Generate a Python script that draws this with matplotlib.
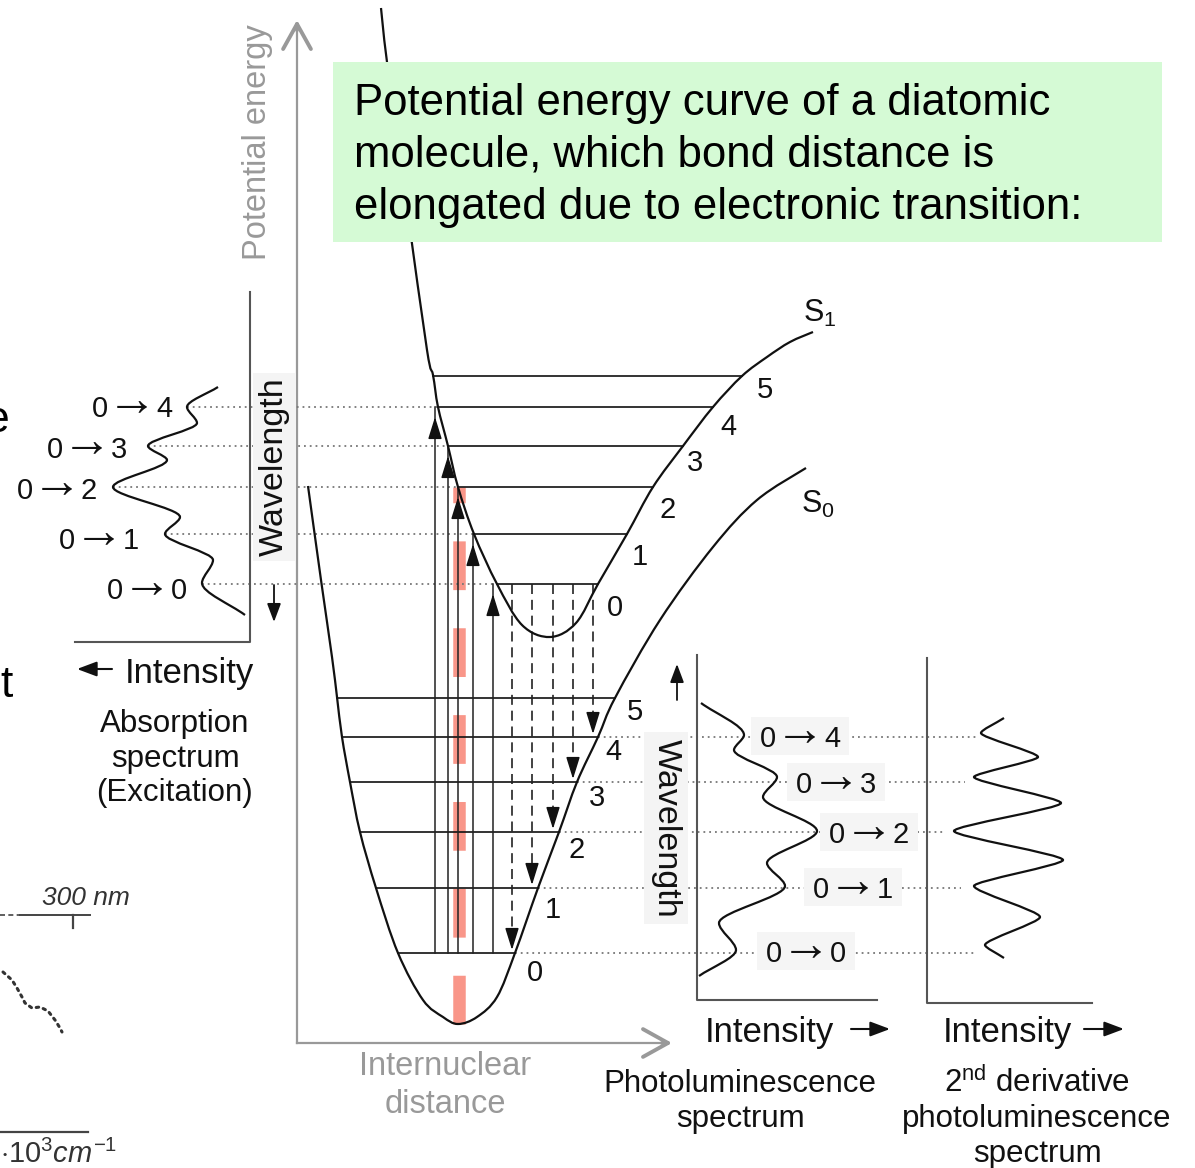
import numpy as np
import matplotlib
matplotlib.use('Agg')
import matplotlib.pyplot as plt
from matplotlib.path import Path
from matplotlib.patches import PathPatch, Rectangle

plt.rcParams['font.family'] = ['Liberation Sans', 'DejaVu Sans']
plt.rcParams['mathtext.fontset'] = 'custom'
plt.rcParams['mathtext.rm'] = 'Liberation Sans'
plt.rcParams['mathtext.it'] = 'Liberation Sans:italic'
plt.rcParams['mathtext.bf'] = 'Liberation Sans:bold'

# ---- diagram data (in picture units, y grows downwards) ----
# excited state S1 potential curve
s1_x = [381, 387, 406, 427, 433, 438, 448, 458, 474, 497, 522, 550, 576, 598, 627, 653, 683, 713, 742, 767, 790, 813]
s1_y = [8, 62, 200, 350, 375, 407, 446, 487, 534, 584, 625, 637, 623, 584, 534, 487, 446, 407, 376, 357, 342, 332]
# ground state S0 potential curve
s0_x = [308, 321, 332, 337, 342, 350, 360, 376, 398, 423, 443, 458, 477, 497, 515, 538, 559, 577, 598, 615, 660, 713, 757, 806]
s0_y = [486, 580, 657, 697, 737, 782, 832, 888, 953, 1000, 1017, 1024, 1017, 997, 953, 888, 832, 782, 737, 698, 620, 547, 500, 468]

# vibrational levels v = 0..5
s1_lv_y = [584, 534, 487, 446, 407, 376]
s1_lv_x0 = [497, 474, 458, 448, 438, 433]
s1_lv_x1 = [598, 627, 653, 683, 713, 742]
s0_lv_y = [953, 888, 832, 782, 737, 698]
s0_lv_x0 = [398, 376, 360, 350, 342, 337]
s0_lv_x1 = [515, 538, 559, 577, 598, 615]
level_names = ['0', '1', '2', '3', '4', '5']
s1_lab_x = [615, 640, 668, 695, 728, 765]
s1_lab_y = [608, 557, 510, 463, 427, 390]
s0_lab_x = [535, 553, 577, 597, 613, 635]
s0_lab_y = [973, 910, 850, 798, 752, 712]

# transitions (absorption up from S0 v0, emission down from S1 v0)
abs_x = [493, 473, 458, 448, 435]
em_x = [512, 532, 553, 573, 593]

# absorption spectrum (intensity grows to the left)
abs_sp_x = [218, 187, 197, 148, 167, 113, 180, 165, 213, 202, 245]
abs_sp_y = [387, 407, 423, 446, 460, 487, 517, 534, 560, 583, 615]
abs_target = ['4', '3', '2', '1', '0']
abs_peak_x = [187, 148, 113, 165, 202]
abs_lab_x = [173, 128, 98, 140, 188]
abs_lab_y = [406, 447, 488, 538, 588]

# photoluminescence spectrum (intensity grows to the right)
pl_x = [701, 744, 734, 777, 763, 817, 767, 785, 719, 736, 699]
pl_y = [703, 735, 750, 777, 797, 831, 863, 886, 923, 950, 976]
pl_target = ['4', '3', '2', '1', '0']
pl_lab_x = [800, 836, 869, 853, 806]
pl_lab_y = [736, 782, 832, 887, 951]
pl_guide_end = [979, 965, 944, 961, 976]

# 2nd derivative of the PL spectrum
d2_x = [1004, 981, 1038, 974, 1061, 954, 1063, 974, 1040, 985, 1004]
d2_y = [718, 733, 757, 777, 803, 831, 860, 886, 917, 945, 958]

# fragment of a neighbouring figure at the bottom left
frag_x = [3, 12, 17, 22, 25, 32, 40, 48, 55, 60, 62]
frag_y = [972, 980, 988, 997, 1003, 1008, 1007, 1011, 1020, 1028, 1032]

INK = '#111111'
GREY = '#999999'


def catmull(xs, ys):
    p = np.column_stack([xs, ys]).astype(float)
    verts = [p[0]]
    codes = [Path.MOVETO]
    for i in range(len(p) - 1):
        p0 = p[i - 1] if i > 0 else p[i]
        p3 = p[i + 2] if i + 2 < len(p) else p[i + 1]
        verts += [p[i] + (p[i + 1] - p0) / 6, p[i + 1] - (p3 - p[i]) / 6, p[i + 1]]
        codes += [Path.CURVE4] * 3
    return Path(verts, codes)


def wiggle(xs, ys, k):
    # bezier between extrema with vertical tangents at the extrema
    p = np.column_stack([xs, ys]).astype(float)
    verts = [p[0]]
    codes = [Path.MOVETO]
    n = len(p)
    for i in range(n - 1):
        a, b = p[i], p[i + 1]
        dy = b[1] - a[1]
        c1 = a + (b - a) / 3 if i == 0 else np.array([a[0], a[1] + k * dy])
        c2 = b - (b - a) / 3 if i == n - 2 else np.array([b[0], b[1] - k * dy])
        verts += [c1, c2, b]
        codes += [Path.CURVE4] * 3
    return Path(verts, codes)


def head(ax, x0, y0, x1, y1, color=INK, lw=1.2, ms=15, hl=0.8, hw=0.3, z=5, style='-|>'):
    ax.annotate('', xy=(x1, y1), xytext=(x0, y0), zorder=z,
                arrowprops=dict(arrowstyle=f'{style},head_length={hl},head_width={hw}',
                                color=color, lw=lw, shrinkA=0, shrinkB=0,
                                mutation_scale=ms))


def transition_label(ax, xc, yc, target, box=False):
    # "0 → n" centred on xc; the arrow glyph is set larger so it is as long as in the original
    base = yc + 11
    if box:
        ax.add_patch(Rectangle((xc - 49, yc - 19), 98, 38, fc='#f5f5f5', ec='none', zorder=5))
    ax.text(xc - 32, base, '0', ha='center', va='baseline', fontsize=21, color=INK, zorder=6)
    ax.text(xc, base - 2, '→', ha='center', va='baseline', fontsize=36, color=INK, zorder=6)
    ax.text(xc + 32, base, target, ha='center', va='baseline', fontsize=21, color=INK, zorder=6)


fig = plt.figure(figsize=(11.95, 11.68), dpi=100)
ax = fig.add_axes([0, 0, 1, 1])
ax.set_xlim(0, 1195)
ax.set_ylim(1168, 0)
ax.axis('off')

# main grey axes
ax.plot([297, 297], [1043, 24], color=GREY, lw=1.6, zorder=2)
ax.plot([297, 668], [1043, 1043], color=GREY, lw=1.6, zorder=2)
head(ax, 297, 30, 297, 20, color=GREY, lw=2.8, ms=20, hl=0.9, hw=0.5, style='->', z=2)
head(ax, 662, 1043, 672, 1043, color=GREY, lw=2.8, ms=20, hl=0.9, hw=0.5, style='->', z=2)
ax.text(258, 142, 'Potential energy', rotation=90, ha='center', va='center',
        fontsize=23.5, color=GREY)
ax.text(445, 1075, 'Internuclear', ha='center', va='baseline', fontsize=23.5, color=GREY)
ax.text(445, 1113, 'distance', ha='center', va='baseline', fontsize=23.5, color=GREY)

# red dashed vertical (equilibrium distance of S0)
ax.plot([459, 459], [1024, 487], color='#f98b7c', lw=9, alpha=0.9,
        linestyle=(0, (3.9, 3.05)), solid_capstyle='butt', zorder=1)

# grey dotted guide lines
for px, yy in zip(abs_peak_x, s1_lv_y[4::-1]):
    wall = s1_lv_x0[s1_lv_y.index(yy)]
    ax.plot([px, wall], [yy, yy], color='#777777', lw=1.3, linestyle=(0, (1, 2.2)), zorder=2)
for i, xe in enumerate(pl_guide_end):
    yy = s0_lv_y[4 - i]
    ax.plot([s0_lv_x1[4 - i], xe], [yy, yy], color='#777777', lw=1.3,
            linestyle=(0, (1, 2.2)), zorder=2)

# vibrational levels
for y, a, b in zip(s1_lv_y, s1_lv_x0, s1_lv_x1):
    ax.plot([a, b], [y, y], color=INK, lw=1.2, zorder=3)
for y, a, b in zip(s0_lv_y, s0_lv_x0, s0_lv_x1):
    ax.plot([a, b], [y, y], color=INK, lw=1.2, zorder=3)

# absorption arrows (solid, up)
for x, yt in zip(abs_x, s1_lv_y[:5]):
    ax.plot([x, x], [s0_lv_y[0], yt], color='#222222', lw=1.1, zorder=3)
    head(ax, x, yt + 26, x, yt + 10, lw=1.1, ms=15, hl=0.9, hw=0.28, z=4)

# emission arrows (dashed, down)
for x, yb in zip(em_x, s0_lv_y[:5]):
    ax.plot([x, x], [s1_lv_y[0], yb - 12], color='#222222', lw=1.2,
            linestyle=(0, (6, 3.5)), zorder=3)
    head(ax, x, yb - 20, x, yb - 3, lw=1.1, ms=15, hl=0.9, hw=0.28, z=4)

# potential curves
ax.add_patch(PathPatch(catmull(s1_x, s1_y), fill=False, ec=INK, lw=1.6, zorder=4))
ax.add_patch(PathPatch(catmull(s0_x, s0_y), fill=False, ec=INK, lw=1.6, zorder=4))
for t, x, y in zip(level_names, s1_lab_x, s1_lab_y):
    ax.text(x, y, t, ha='center', va='center', fontsize=21, color=INK, zorder=5)
for t, x, y in zip(level_names, s0_lab_x, s0_lab_y):
    ax.text(x, y, t, ha='center', va='center', fontsize=21, color=INK, zorder=5)
ax.text(820, 313, r'$\mathrm{S}_{\mathrm{1}}$', ha='center', va='center', fontsize=22, color=INK)
ax.text(818, 504, r'$\mathrm{S}_{\mathrm{0}}$', ha='center', va='center', fontsize=22, color=INK)

# ---- absorption spectrum panel ----
ax.plot([250, 250, 75], [292, 642, 642], color='#555555', lw=1.5, zorder=3)
ax.add_patch(PathPatch(wiggle(abs_sp_x, abs_sp_y, 0.3), fill=False, ec=INK, lw=1.6, zorder=4))
for t, x, y in zip(abs_target, abs_lab_x, abs_lab_y):
    transition_label(ax, x - 41, y, t)
ax.text(274, 467, 'Wavelength', rotation=90, ha='center', va='center', fontsize=24.5,
        color=INK, zorder=5,
        bbox=dict(boxstyle='square,pad=0.15', fc='#f4f4f4', ec='none'))
head(ax, 274, 585, 274, 622, lw=1.3, ms=14)
head(ax, 112, 669, 77, 669, lw=1.5, ms=15)
ax.text(125, 683, 'Intensity', ha='left', va='baseline', fontsize=25, color=INK)
for t, yb in zip(['Absorption', 'spectrum', '(Excitation)'], [732, 767, 801]):
    ax.text(175, yb, t, ha='center', va='baseline', fontsize=22.5, color=INK)

# ---- photoluminescence panel ----
ax.plot([697, 697, 877], [655, 1000, 1000], color='#555555', lw=1.5, zorder=3)
ax.add_patch(PathPatch(wiggle(pl_x, pl_y, 0.3), fill=False, ec=INK, lw=1.6, zorder=4))
for t, x, y in zip(pl_target, pl_lab_x, pl_lab_y):
    transition_label(ax, x, y, t, box=True)
ax.text(666, 828, 'Wavelength', rotation=270, ha='center', va='center', fontsize=24.5,
        color=INK, zorder=5,
        bbox=dict(boxstyle='square,pad=0.2', fc='#f4f4f4', ec='none'))
head(ax, 677, 700, 677, 664, lw=1.3, ms=14)
ax.text(705, 1042, 'Intensity', ha='left', va='baseline', fontsize=25, color=INK)
head(ax, 851, 1029, 890, 1029, lw=1.5, ms=15)
for t, yb in zip(['Photoluminescence', 'spectrum'], [1092, 1127]):
    ax.text(740, yb, t, ha='center', va='baseline', fontsize=22.5, color=INK)

# ---- 2nd derivative panel ----
ax.plot([927, 927, 1092], [658, 1003, 1003], color='#555555', lw=1.5, zorder=3)
ax.add_patch(PathPatch(wiggle(d2_x, d2_y, 0.2), fill=False, ec=INK, lw=1.6, zorder=4))
ax.text(943, 1042, 'Intensity', ha='left', va='baseline', fontsize=25, color=INK)
head(ax, 1084, 1029, 1124, 1029, lw=1.5, ms=15)
for t, yb in zip([r'2$^{\mathrm{nd}}$ derivative', 'photoluminescence', 'spectrum'],
                 [1092, 1127, 1162]):
    ax.text(1037, yb, t, ha='center', va='baseline', fontsize=22.5, color=INK)

# ---- note box ----
ax.add_patch(Rectangle((333, 62), 829, 180, fc='#d5fad5', ec='none', zorder=6))
for t, yb in zip(['Potential energy curve of a diatomic',
                  'molecule, which bond distance is',
                  'elongated due to electronic transition:'], [115, 167, 219]):
    ax.text(354, yb, t, ha='left', va='baseline', fontsize=31.5, color='#000000', zorder=7)

# ---- clipped fragments of neighbouring content ----
ax.text(9, 432, 'e', ha='right', va='baseline', fontsize=32, color='#000000')
ax.text(13, 697, 't', ha='right', va='baseline', fontsize=32, color='#000000')
ax.text(42, 905, '300 nm', ha='left', va='baseline', fontsize=19, style='italic', color='#333333')
ax.plot([0, 20], [915, 915], color='#444444', lw=1.2, linestyle=(0, (3, 2)))
ax.plot([20, 90], [915, 915], color='#444444', lw=1.4)
ax.plot([73, 73], [915, 928], color='#444444', lw=1.6)
ax.plot(frag_x, frag_y, color='#333333', lw=2.2, linestyle=(0, (0.8, 1.6)),
        dash_capstyle='round')
ax.plot([0, 88], [1132, 1132], color='#444444', lw=1.6)
ax.text(0, 1163, r'$\mathit{\cdot 10^{3} cm^{-1}}$', ha='left', va='baseline',
        fontsize=21, color='#333333')

fig.savefig('out.png', dpi=100)
